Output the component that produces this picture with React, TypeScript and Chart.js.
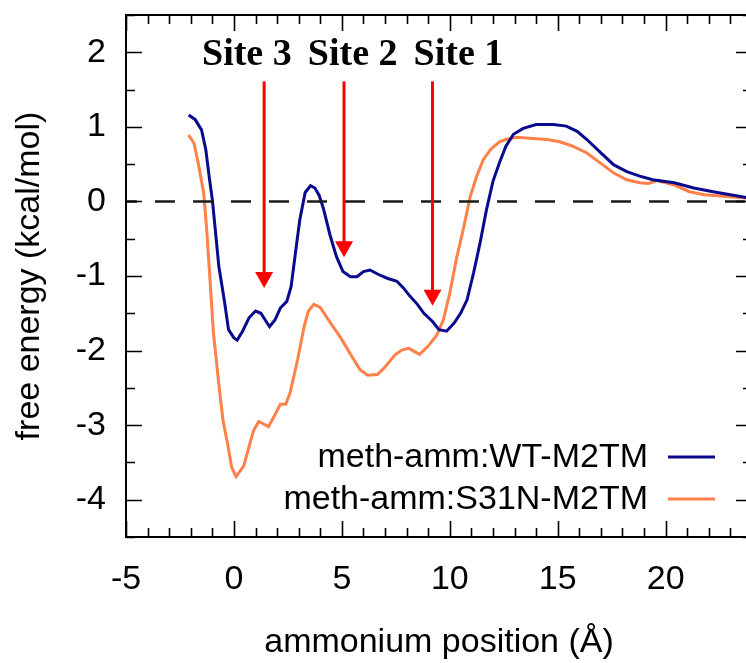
import React, { useEffect, useRef } from 'react';
import { Chart, registerables } from 'chart.js';

Chart.register(...registerables);

// ---------- data ----------
const X_TICKS = [-5, 0, 5, 10, 15, 20];
const Y_TICKS = [-4, -3, -2, -1, 0, 1, 2];

const WT_X = [-2.1, -1.8, -1.5, -1.3, -1.15, -1.0, -0.85, -0.7, -0.45, -0.25, 0.0, 0.15, 0.4, 0.7, 1.0, 1.25, 1.45, 1.65, 1.9, 2.15, 2.45, 2.65, 2.85, 3.05, 3.3, 3.55, 3.75, 3.95, 4.15, 4.45, 4.75, 5.05, 5.4, 5.7, 6.0, 6.3, 6.7, 7.1, 7.55, 7.85, 8.15, 8.5, 8.8, 9.2, 9.5, 9.85, 10.2, 10.5, 10.8, 11.1, 11.4, 11.7, 12.0, 12.3, 12.6, 12.95, 13.4, 14.0, 14.8, 15.4, 15.9, 16.35, 17.0, 17.6, 18.2, 18.8, 19.4, 20.4, 21.3, 22.2, 23.0, 24.0];
const WT_Y = [1.16, 1.1, 0.96, 0.69, 0.34, 0.02, -0.42, -0.87, -1.32, -1.72, -1.83, -1.86, -1.74, -1.56, -1.47, -1.5, -1.59, -1.68, -1.59, -1.43, -1.34, -1.14, -0.69, -0.25, 0.12, 0.21, 0.18, 0.08, -0.1, -0.45, -0.74, -0.94, -1.01, -1.01, -0.94, -0.92, -0.98, -1.03, -1.07, -1.16, -1.27, -1.38, -1.5, -1.61, -1.72, -1.74, -1.63, -1.5, -1.32, -0.96, -0.56, -0.11, 0.27, 0.52, 0.74, 0.9, 0.98, 1.03, 1.03, 1.01, 0.94, 0.83, 0.65, 0.49, 0.4, 0.34, 0.29, 0.25, 0.18, 0.13, 0.09, 0.04];

const S31N_X = [-2.1, -1.85, -1.65, -1.4, -1.25, -1.1, -0.95, -0.7, -0.5, -0.3, -0.1, 0.1, 0.45, 0.9, 1.15, 1.6, 1.9, 2.15, 2.4, 2.6, 2.95, 3.25, 3.45, 3.7, 4.0, 4.45, 4.95, 5.4, 5.85, 6.2, 6.65, 7.0, 7.45, 7.8, 8.1, 8.6, 9.0, 9.4, 9.7, 10.0, 10.3, 10.65, 10.95, 11.25, 11.55, 11.9, 12.3, 12.6, 13.1, 14.0, 14.5, 15.1, 15.7, 16.35, 17.0, 17.6, 18.2, 18.8, 19.2, 19.6, 20.4, 21.1, 21.8, 22.7, 24.0];
const S31N_Y = [0.89, 0.78, 0.51, 0.11, -0.42, -1.09, -1.76, -2.45, -2.95, -3.24, -3.57, -3.69, -3.55, -3.08, -2.95, -3.02, -2.86, -2.72, -2.72, -2.57, -2.12, -1.68, -1.47, -1.38, -1.42, -1.62, -1.83, -2.05, -2.26, -2.33, -2.32, -2.22, -2.06, -1.99, -1.97, -2.05, -1.94, -1.79, -1.59, -1.23, -0.78, -0.34, 0.07, 0.34, 0.56, 0.7, 0.8, 0.83, 0.86, 0.84, 0.83, 0.8, 0.74, 0.65, 0.51, 0.38, 0.29, 0.25, 0.24, 0.28, 0.22, 0.13, 0.09, 0.07, 0.04];

const SERIES_LABELS = ['meth-amm:WT-M2TM', 'meth-amm:S31N-M2TM'];
const ZERO_LINE_X = [-5, 24];

const SITE_NAMES = ['Site 3', 'Site 2', 'Site 1'];
const SITE_LABEL_X = [0.6, 5.5, 10.4];
const SITE_LABEL_Y = 1.83;
const ARROW_X = [1.4, 5.1, 9.2];
const ARROW_TOP = 1.61;
const ARROW_TIP = [-1.16, -0.75, -1.4];

// ---------- styles ----------
const BLUE = '#0a0a8e';
const ORANGE = '#ff8048';
const FONT = "'Liberation Sans', Arial, sans-serif";
const FS = 34;

const overlay = {
  id: 'overlay',
  afterDatasetsDraw(chart: any) {
    const { ctx, chartArea: a, scales } = chart;
    const xs = scales.x, ys = scales.y;
    ctx.save();
    // arrows
    ctx.strokeStyle = '#ff0000';
    ctx.fillStyle = '#ff0000';
    ctx.lineWidth = 3;
    ARROW_X.forEach((xv, i) => {
      const px = xs.getPixelForValue(xv);
      const top = ys.getPixelForValue(ARROW_TOP);
      const tip = ys.getPixelForValue(ARROW_TIP[i]);
      ctx.beginPath();
      ctx.moveTo(px, top);
      ctx.lineTo(px, tip - 14);
      ctx.stroke();
      ctx.beginPath();
      ctx.moveTo(px - 9, tip - 16);
      ctx.lineTo(px + 9, tip - 16);
      ctx.lineTo(px, tip);
      ctx.closePath();
      ctx.fill();
    });
    // site labels
    ctx.fillStyle = '#000';
    ctx.font = "bold 38px 'Liberation Serif', 'Times New Roman', serif";
    ctx.textAlign = 'center';
    ctx.textBaseline = 'alphabetic';
    SITE_NAMES.forEach((s, i) => {
      ctx.fillText(s, xs.getPixelForValue(SITE_LABEL_X[i]), ys.getPixelForValue(SITE_LABEL_Y));
    });
    // legend
    ctx.font = `${FS}px ${FONT}`;
    ctx.textAlign = 'right';
    ctx.textBaseline = 'middle';
    const colors = [BLUE, ORANGE];
    SERIES_LABELS.forEach((lab, i) => {
      const y = a.bottom - 80 + i * 42;
      ctx.fillStyle = '#000';
      ctx.fillText(lab, a.right - 104, y + 1);
      ctx.strokeStyle = colors[i];
      ctx.lineWidth = 3;
      ctx.beginPath();
      ctx.moveTo(a.right - 84, y);
      ctx.lineTo(a.right - 37, y);
      ctx.stroke();
    });
    ctx.restore();
  },
  afterDraw(chart: any) {
    const { ctx, chartArea: a, scales } = chart;
    const xs = scales.x, ys = scales.y;
    ctx.save();
    ctx.strokeStyle = '#000';
    ctx.lineWidth = 2;
    ctx.strokeRect(a.left, a.top, a.right - a.left, a.bottom - a.top);
    ctx.lineWidth = 1.6;
    ctx.beginPath();
    for (let v = xs.min; v <= xs.max + 1e-9; v += 1) {
      const px = Math.round(xs.getPixelForValue(v)) + 0.5;
      const len = Math.abs(v % 5) < 1e-9 ? 16 : 9;
      ctx.moveTo(px, a.bottom);
      ctx.lineTo(px, a.bottom - len);
      ctx.moveTo(px, a.top);
      ctx.lineTo(px, a.top + len);
    }
    for (let v = ys.min; v <= ys.max + 1e-9; v += 0.5) {
      const py = Math.round(ys.getPixelForValue(v)) + 0.5;
      const len = Math.abs(v % 1) < 1e-9 ? 16 : 9;
      ctx.moveTo(a.left, py);
      ctx.lineTo(a.left + len, py);
      ctx.moveTo(a.right, py);
      ctx.lineTo(a.right - len, py);
    }
    ctx.stroke();
    ctx.restore();
  },
};

export default function App() {
  const ref = useRef<HTMLCanvasElement>(null);
  useEffect(() => {
    if (!ref.current) return;
    const chart = new Chart(ref.current, {
      type: 'line',
      data: {
        datasets: [
          {
            label: 'zero',
            data: ZERO_LINE_X.map((x) => ({ x, y: 0 })),
            borderColor: '#1a1a1a',
            borderWidth: 2.5,
            borderDash: [20, 18],
            borderDashOffset: 9,
            pointRadius: 0,
          },
          {
            label: SERIES_LABELS[0],
            data: WT_X.map((x, i) => ({ x, y: WT_Y[i] })),
            borderColor: BLUE,
            borderWidth: 3,
            pointRadius: 0,
            tension: 0,
          },
          {
            label: SERIES_LABELS[1],
            data: S31N_X.map((x, i) => ({ x, y: S31N_Y[i] })),
            borderColor: ORANGE,
            borderWidth: 3,
            pointRadius: 0,
            tension: 0,
          },
        ],
      },
      options: {
        responsive: false,
        animation: false,
        devicePixelRatio: 1,
        layout: { padding: { top: 15, right: 8, bottom: 0, left: 0 } },
        plugins: { legend: { display: false }, tooltip: { enabled: false } },
        scales: {
          x: {
            type: 'linear',
            min: -5,
            max: 24,
            afterBuildTicks: (s: any) => {
              s.ticks = X_TICKS.map((value) => ({ value }));
            },
            afterFit: (s: any) => {
              s.height = 126;
              s.paddingLeft = 0;
              s.paddingRight = 0;
            },
            grid: { display: false, drawTicks: false },
            border: { display: false },
            ticks: { font: { family: FONT, size: FS }, color: '#000', padding: 22, maxRotation: 0, autoSkip: false },
            title: {
              display: true,
              text: 'ammonium position (Å)',
              font: { family: FONT, size: FS },
              color: '#000',
              padding: { top: 0, bottom: 0 },
            },
          },
          y: {
            type: 'linear',
            min: -4.5,
            max: 2.5,
            afterBuildTicks: (s: any) => {
              s.ticks = Y_TICKS.map((value) => ({ value }));
            },
            afterFit: (s: any) => {
              s.width = 126;
              s.paddingTop = 0;
              s.paddingBottom = 0;
            },
            grid: { display: false, drawTicks: false },
            border: { display: false },
            ticks: { font: { family: FONT, size: FS }, color: '#000', padding: 20, autoSkip: false },
            title: {
              display: true,
              text: 'free energy (kcal/mol)',
              font: { family: FONT, size: FS },
              color: '#000',
              padding: { top: 9, bottom: 0 },
            },
          },
        },
      },
      plugins: [overlay],
    } as any);
    return () => chart.destroy();
  }, []);
  return (
    <div style={{ position: 'fixed', left: 0, top: 0, width: 746, height: 663, overflow: 'hidden', background: '#fff' }}>
      <canvas ref={ref} width={760} height={663} style={{ display: 'block' }} />
    </div>
  );
}
